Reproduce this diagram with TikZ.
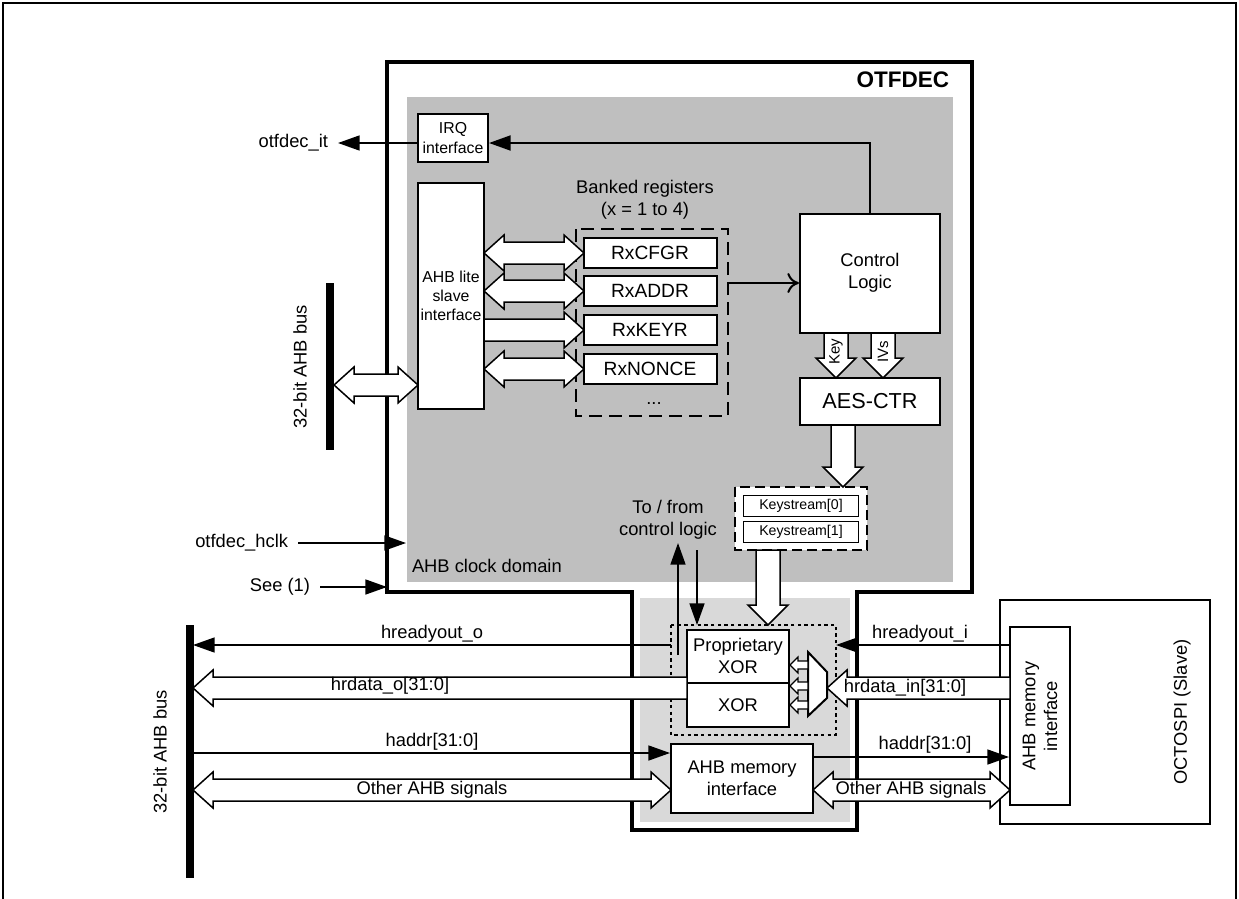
\documentclass[tikz,border=0pt]{standalone}
\usepackage{fontspec}
\setmainfont{Liberation Sans}
\usetikzlibrary{arrows.meta,calc}
\definecolor{dg}{gray}{0.75}
\definecolor{lg}{gray}{0.85}
\tikzset{
 box/.style={draw,line width=1.2pt,fill=white,align=center,inner sep=0pt,font=\fontsize{10.5}{12.5}\selectfont},
 fatst/.style={draw,line width=0.9pt,fill=white},
 sig/.style={line width=1pt,-{Triangle[length=13pt,width=9pt]}},
 lbl/.style={font=\fontsize{11}{13}\selectfont,inner sep=1pt,align=center},
 bar/.style={line width=5pt},
}
\newcommand\hfat[3]{%
 \pgfmathsetmacro\hd{(#2>#1) ? -20 : 20}%
 \draw[fatst] (#1,#3-11) -- (#2+\hd,#3-11) -- (#2+\hd,#3-18) -- (#2,#3) -- (#2+\hd,#3+18) -- (#2+\hd,#3+11) -- (#1,#3+11) -- cycle;}
\newcommand\hdfat[3]{%
 \draw[fatst] (#1,#3) -- (#1+20,#3-18) -- (#1+20,#3-11) -- (#2-20,#3-11) -- (#2-20,#3-18) -- (#2,#3) -- (#2-20,#3+18) -- (#2-20,#3+11) -- (#1+20,#3+11) -- (#1+20,#3+18) -- cycle;}
\newcommand\vfat[3]{%
 \draw[fatst] (#1-12,#2) -- (#1-12,#3-20) -- (#1-20,#3-20) -- (#1,#3) -- (#1+20,#3-20) -- (#1+12,#3-20) -- (#1+12,#2) -- cycle;}
\newcommand\sfat[3]{%
 \draw[fatst,line width=0.7pt] (#1,#3-4) -- (#2+8,#3-4) -- (#2+8,#3-8) -- (#2,#3) -- (#2+8,#3+8) -- (#2+8,#3+4) -- (#1,#3+4) -- cycle;}
\begin{document}
\begin{tikzpicture}[x=0.6pt,y=-0.6pt,font=\fontsize{11}{13}\selectfont]
\useasboundingbox (0,0) rectangle (1239,899);
\draw[line width=1.2pt] (3,910) -- (3,3) -- (1236,3) -- (1236,910);
% regions
\fill[dg] (407,97) rectangle (953,582);
\fill[lg] (640,598) rectangle (850,822);
\draw[line width=2pt] (387,592) -- (387,62) -- (972,62) -- (972,592) -- (857,592) -- (857,830) -- (632,830) -- (632,592) -- cycle;
\node[font=\fontsize{13.5}{15}\selectfont\bfseries,anchor=east] (otf) at (955,80) {OTFDEC};
\node[lbl,anchor=west] (dom) at (410,566) {AHB clock domain};
% boxes
\node[box,minimum width=70*0.6pt,minimum height=48*0.6pt,font=\fontsize{9.5}{11.5}\selectfont] (irq) at (453,138) {IRQ\\interface};
\node[box,minimum width=66*0.6pt,minimum height=226*0.6pt,font=\fontsize{9.5}{11.5}\selectfont] (ahbl) at (451,296) {AHB lite\\slave\\interface};
\node[lbl] (bank) at (645,200) {Banked registers\\(x = 1 to 4)};
\draw[line width=1.2pt,dash pattern=on 8pt off 4pt] (576,229) rectangle (728,416);
\coordinate (bankr) at (728,283);
\foreach \n/\t/\y in {cfg/RxCFGR/253,addr/RxADDR/291,key/RxKEYR/330,non/RxNONCE/369}
 \node[box,minimum width=133*0.6pt,minimum height=30*0.6pt,font=\fontsize{11.5}{13}\selectfont] (\n) at (650,\y) {\t};
\node[lbl] (dots) at (654,404) {...};
\node[box,minimum width=140*0.6pt,minimum height=119*0.6pt,font=\fontsize{11}{13}\selectfont] (ctl) at (870,273) {Control\\Logic};
\node[box,minimum width=140*0.6pt,minimum height=47*0.6pt,font=\fontsize{13}{15}\selectfont] (aes) at (870,401) {AES-CTR};
% keystream
\draw[line width=1.2pt,dash pattern=on 6pt off 3pt,fill=white] (735,487) rectangle (867,550);
\node[box,line width=1pt,minimum width=115*0.6pt,minimum height=21*0.6pt,font=\fontsize{8.5}{9}\selectfont] (ks0) at (801,506) {Keystream[0]};
\node[box,line width=1pt,minimum width=115*0.6pt,minimum height=21*0.6pt,font=\fontsize{8.5}{9}\selectfont] (ks1) at (801,532) {Keystream[1]};
\node[lbl] (tofrom) at (668,520) {To / from\\control logic};
% XOR
\draw[line width=1pt,dash pattern=on 2pt off 2pt] (671,625) rectangle (836,735);
\node[box,minimum width=102*0.6pt,minimum height=53*0.6pt,font=\fontsize{11}{13}\selectfont] (pxor) at (738,656) {Proprietary\\XOR};
\node[box,minimum width=102*0.6pt,minimum height=44*0.6pt,font=\fontsize{11}{13}\selectfont] (xor) at (738,705) {XOR};
\draw[line width=1.2pt,fill=white] (808,652) -- (827,672) -- (827,698) -- (808,716) -- cycle;
\coordinate (mux) at (827,688);
\sfat{808}{790}{665}
\sfat{808}{790}{686}
\sfat{808}{790}{705}
\node[box,minimum width=142*0.6pt,minimum height=69*0.6pt,font=\fontsize{11}{13}\selectfont] (mem) at (742,778) {AHB memory\\interface};
% OCTOSPI
\draw[line width=1.2pt] (1000,600) rectangle (1210,824);
\node[lbl,rotate=90] (octo) at (1182,712) {OCTOSPI (Slave)};
\node[box,minimum width=60*0.6pt,minimum height=178*0.6pt] (rmem) at (1040,716) {};
\node[lbl,rotate=90] at (rmem) {AHB memory\\interface};
% bars
\draw[bar] (330,283) -- (330,450);
\node[lbl,rotate=90] (bus1) at (300,367) {32-bit AHB bus};
\draw[bar] (190,625) -- (190,878);
\node[lbl,rotate=90] (bus2) at (160,752) {32-bit AHB bus};
% fat arrows
\hdfat{334}{418}{385}
\hdfat{484}{584}{253}
\hdfat{484}{584}{291}
\hfat{484}{584}{330}
\hdfat{484}{584}{369}
\vfat{836}{333}{378}
\vfat{883}{333}{378}
\node[font=\fontsize{9}{10}\selectfont,rotate=90] at (836,352) {Key};
\node[font=\fontsize{9}{10}\selectfont,rotate=90] at (883,352) {IVs};
\vfat{843}{425}{487}
\vfat{768}{550}{625}
\hfat{1010}{827}{688}
\hfat{687}{193}{688}
\hdfat{193}{671}{790}
\hdfat{813}{1010}{790}
\node[lbl] at (905,688) {hrdata\_in[31:0]};
\node[lbl] at (390,686) {hrdata\_o[31:0]};
\node[lbl] at (432,790) {Other AHB signals};
\node[lbl] at (911,790) {Other AHB signals};
% signal arrows
\coordinate (otl) at (338,143);
\node[lbl,anchor=east] (otit) at (330,143) {otfdec\_it};
\draw[sig] (irq.west|-otl) -- (otl);
\draw[line width=1.2pt,-{Triangle[length=13pt,width=9pt]}] (ctl.north) |- (irq.east|-otl);
\draw[line width=1.2pt,-{To[length=7pt,width=12pt]}] (bankr) -- (ctl.west|-bankr);
\node[lbl,anchor=east] (hclk) at (290,543) {otfdec\_hclk};
\coordinate (hclkend) at (406,543);
\draw[sig] (hclk.east)++(8,0) -- (hclkend);
\node[lbl,anchor=east] (see) at (312,587) {See (1)};
\coordinate (seeend) at (387,587);
\draw[sig] (see.east)++(8,0) -- (seeend);
\coordinate (ctu) at (678,543);
\coordinate (ctd) at (697,550);
\draw[sig] (678,655) -- (ctu);
\draw[sig] (ctd) -- (697,625);
\coordinate (hrin) at (1010,645);
\draw[sig] (hrin) -- (836,645);
\node[lbl] at (920,634) {hreadyout\_i};
\draw[sig] (671,645) -- (193,645);
\node[lbl] at (432,634) {hreadyout\_o};
\draw[sig] (193,753) -- (mem.west|-0,753);
\node[lbl] at (432,742) {haddr[31:0]};
\draw[sig] (mem.east|-0,757) -- (rmem.west|-0,757);
\node[lbl] at (925,745) {haddr[31:0]};
\end{tikzpicture}
\end{document}
